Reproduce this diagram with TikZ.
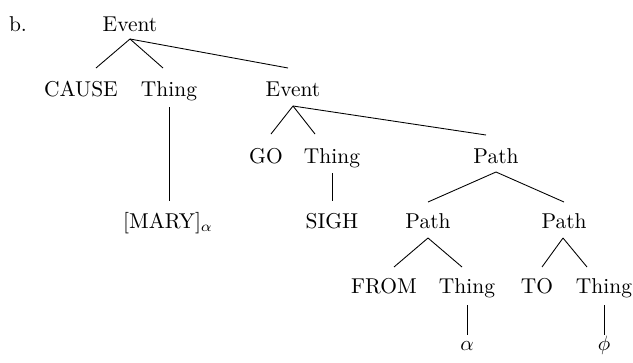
\documentclass[tikz,border=0pt]{standalone}
\begin{document}
\begin{tikzpicture}[x=0.48pt,y=-0.48pt,
  lbl/.style={anchor=base,inner sep=0pt,font=\fontsize{10.3}{12}\selectfont},
  edge/.style={line width=0.42pt}]
\useasboundingbox (0,0) rectangle (633,362);
% nodes
\node[lbl] (b) at (18,31) {b.};
\node[lbl] (e0) at (130,31) {Event};
\node[lbl] (cause) at (81,96) {CAUSE};
\node[lbl] (th1) at (169,96) {Thing};
\node[lbl] (e1) at (293,96) {Event};
\node[lbl] (mary) at (168,228) {[MARY]$_\alpha$};
\node[lbl] (go) at (266,163) {GO};
\node[lbl] (th2) at (332,163) {Thing};
\node[lbl] (p0) at (496,163) {Path};
\node[lbl] (sigh) at (332,228) {SIGH};
\node[lbl] (p1) at (428,228) {Path};
\node[lbl] (p2) at (564,228) {Path};
\node[lbl] (from) at (384,293) {FROM};
\node[lbl] (th3) at (467,293) {Thing};
\node[lbl] (to) at (537,293) {TO};
\node[lbl] (th4) at (604,293) {Thing};
\node[lbl] (alpha) at (467,350) {$\alpha$};
\node[lbl] (phi) at (604,350) {$\phi$};
% connectors
\draw[edge] ([shift={(0,8)}]e0.base) -- ([shift={(15,-28)}]cause.base);
\draw[edge] ([shift={(0,8)}]e0.base) -- ([shift={(-6,-28)}]th1.base);
\draw[edge] ([shift={(0,8)}]e0.base) -- ([shift={(-5,-28)}]e1.base);
\draw[edge] ([shift={(0,11)}]th1.base) -- ([shift={(1,-27)}]mary.base);
\draw[edge] ([shift={(0,10)}]e1.base) -- ([shift={(5,-29)}]go.base);
\draw[edge] ([shift={(0,10)}]e1.base) -- ([shift={(-17,-29)}]th2.base);
\draw[edge] ([shift={(0,10)}]e1.base) -- ([shift={(-10,-28)}]p0.base);
\draw[edge] ([shift={(0,10)}]th2.base) -- ([shift={(0,-27)}]sigh.base);
\draw[edge] ([shift={(0,9)}]p0.base) -- ([shift={(0,-26)}]p1.base);
\draw[edge] ([shift={(0,9)}]p0.base) -- ([shift={(0,-26)}]p2.base);
\draw[edge] ([shift={(0,10)}]p1.base) -- ([shift={(10,-26)}]from.base);
\draw[edge] ([shift={(0,10)}]p1.base) -- ([shift={(-5,-26)}]th3.base);
\draw[edge] ([shift={(-1,10)}]p2.base) -- ([shift={(5,-26)}]to.base);
\draw[edge] ([shift={(-1,10)}]p2.base) -- ([shift={(-17,-26)}]th4.base);
\draw[edge] ([shift={(0,12)}]th3.base) -- ([shift={(0,-15)}]alpha.base);
\draw[edge] ([shift={(0,12)}]th4.base) -- ([shift={(0,-15)}]phi.base);
\end{tikzpicture}
\end{document}
